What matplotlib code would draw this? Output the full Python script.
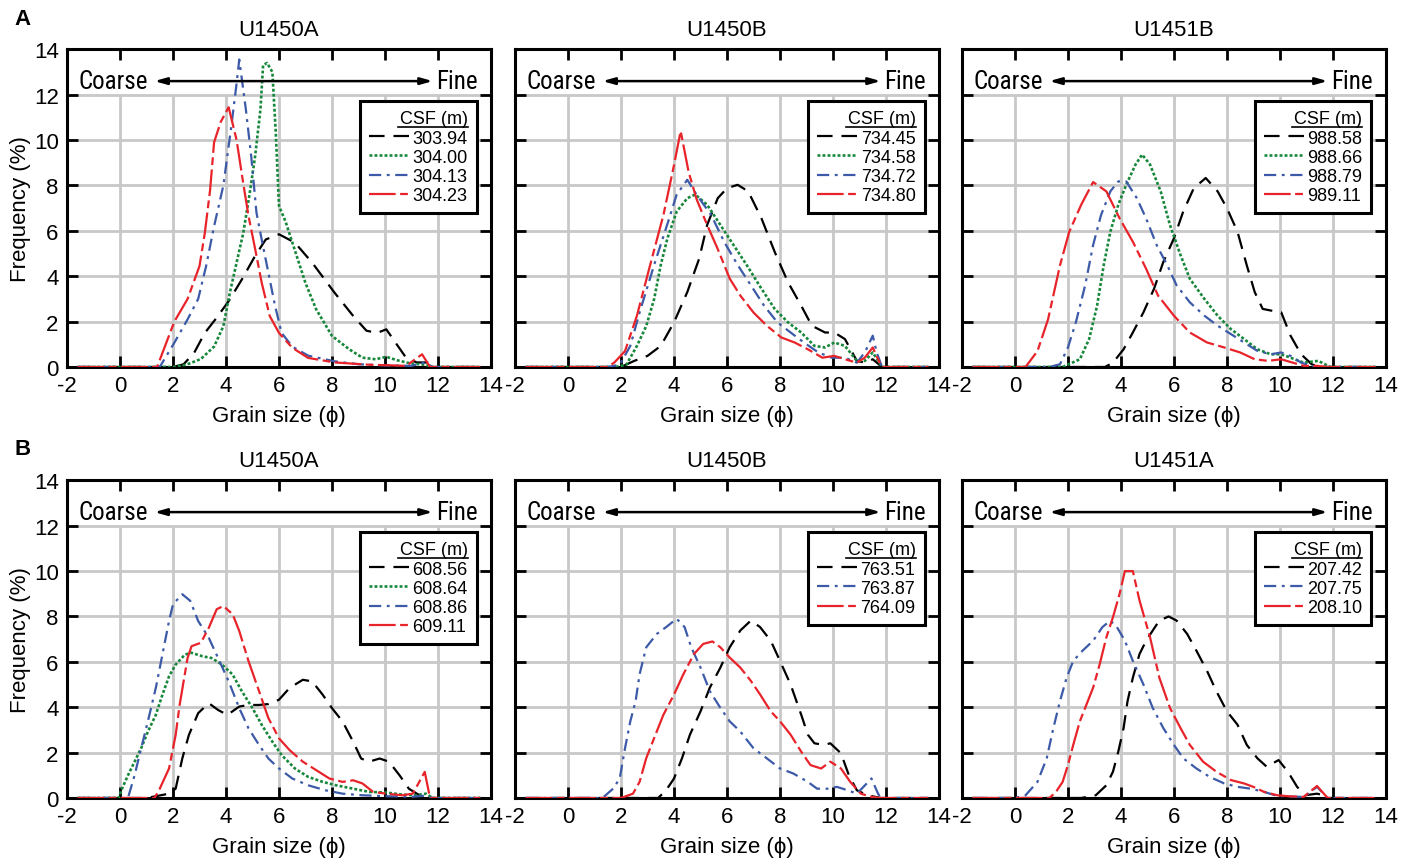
import matplotlib
matplotlib.use("Agg")
import matplotlib.pyplot as plt
from matplotlib.lines import Line2D

plt.rcParams['font.family'] = ['Liberation Sans', 'DejaVu Sans']
plt.rcParams['axes.unicode_minus'] = False

# ---- grain-size distributions: phi values and frequency (%) ----
# (A) U1450A
a1_30394_phi = [-1.6, 2.0, 2.4, 2.8, 3.2, 3.6, 4.1, 4.6, 5.1, 5.5, 6.0, 6.6, 7.25, 8.1, 8.8, 9.3, 9.7, 10.05, 10.4, 10.8, 11.2, 11.6, 11.8, 13.6]
a1_30394_freq = [0, 0, 0.12, 0.63, 1.5, 2.1, 2.9, 3.86, 4.9, 5.62, 5.85, 5.48, 4.6, 3.27, 2.25, 1.6, 1.5, 1.66, 1.07, 0.4, 0.2, 0.2, 0, 0]
a1_30400_phi = [-1.6, 2.0, 2.5, 3.05, 3.55, 3.9, 4.15, 4.4, 4.65, 4.9, 5.1, 5.3, 5.4, 5.55, 5.75, 5.88, 6.0, 6.25, 6.5, 6.75, 7.0, 7.4, 8.0, 8.65, 9.15, 9.65, 10.05, 10.45, 10.95, 11.5, 11.8, 13.6]
a1_30400_freq = [0, 0, 0.1, 0.35, 0.9, 1.8, 3.3, 4.6, 5.9, 7.7, 9.3, 11.35, 13.3, 13.4, 13.0, 10.3, 7.1, 6.4, 5.5, 4.6, 3.7, 2.55, 1.37, 0.78, 0.41, 0.34, 0.45, 0.3, 0.16, 0.1, 0, 0]
a1_30413_phi = [-1.6, 1.5, 2.05, 2.55, 2.95, 3.25, 3.55, 3.9, 4.2, 4.4, 4.5, 4.75, 4.95, 5.15, 5.35, 5.6, 5.85, 6.1, 6.5, 7.1, 8.1, 9.0, 10.0, 11.0, 11.5, 11.8, 13.6]
a1_30413_freq = [0, 0, 1.07, 2.1, 3.0, 4.45, 6.2, 8.0, 10.6, 12.5, 13.55, 11.35, 9.3, 6.8, 5.6, 4.15, 2.7, 1.5, 0.9, 0.5, 0.25, 0.12, 0.07, 0.05, 0.2, 0, 0]
a1_30423_phi = [-1.6, 1.4, 2.05, 2.55, 3.0, 3.2, 3.4, 3.55, 3.8, 4.1, 4.4, 4.65, 4.85, 5.1, 5.35, 5.65, 6.0, 6.5, 7.1, 8.1, 9.4, 10.0, 10.8, 11.4, 11.7, 13.6]
a1_30423_freq = [0, 0, 2.0, 3.0, 4.45, 5.9, 7.8, 9.9, 10.8, 11.45, 10.0, 8.1, 6.65, 5.2, 3.7, 2.25, 1.5, 0.85, 0.4, 0.2, 0.1, 0.08, 0.05, 0.56, 0, 0]

# (A) U1450B
a2_73445_phi = [-1.6, 2.0, 2.5, 3.0, 3.5, 4.0, 4.5, 4.95, 5.25, 5.65, 6.0, 6.4, 6.8, 7.3, 7.8, 8.3, 8.8, 9.2, 9.7, 10.05, 10.45, 10.9, 11.2, 11.5, 11.85, 13.6]
a2_73445_freq = [0, 0, 0.27, 0.49, 0.93, 1.97, 3.3, 4.78, 6.26, 7.44, 7.88, 8.03, 7.74, 6.55, 5.07, 3.74, 2.7, 1.82, 1.52, 1.52, 1.23, 0.27, 0.19, 0.34, 0, 0]
a2_73458_phi = [-1.6, 1.8, 2.2, 2.6, 2.95, 3.25, 3.5, 3.75, 4.1, 4.5, 4.8, 5.25, 5.75, 6.25, 6.75, 7.3, 7.8, 8.3, 8.8, 9.3, 9.7, 10.05, 10.45, 10.9, 11.2, 11.5, 11.85, 13.6]
a2_73458_freq = [0, 0, 0.1, 0.93, 1.8, 3.0, 4.5, 5.67, 6.85, 7.44, 7.6, 7.15, 6.26, 5.37, 4.48, 3.45, 2.56, 1.97, 1.52, 0.93, 0.86, 1.08, 0.93, 0.27, 0.27, 0.64, 0, 0]
a2_73472_phi = [-1.6, 1.5, 1.95, 2.35, 2.7, 3.25, 3.75, 4.1, 4.5, 4.85, 5.4, 5.9, 6.4, 6.9, 7.4, 7.9, 8.4, 8.9, 9.45, 9.95, 10.45, 10.9, 11.2, 11.5, 11.65, 11.85, 13.6]
a2_73472_freq = [0, 0, 0.1, 0.93, 2.4, 4.5, 6.3, 7.6, 8.25, 7.6, 6.7, 5.5, 4.5, 3.6, 2.7, 1.97, 1.52, 1.08, 0.64, 0.41, 0.41, 0.19, 0.64, 1.38, 0.64, 0, 0]
a2_73480_phi = [-1.6, 1.5, 1.75, 2.15, 2.6, 3.1, 3.6, 4.0, 4.25, 4.55, 4.85, 5.25, 5.65, 6.1, 6.5, 7.0, 7.5, 8.05, 8.55, 9.05, 9.6, 10.05, 10.45, 10.9, 11.2, 11.5, 11.7, 11.85, 13.6]
a2_73480_freq = [0, 0, 0.2, 0.7, 2.26, 4.5, 6.7, 8.9, 10.4, 8.6, 7.4, 6.26, 5.2, 3.9, 3.15, 2.4, 1.82, 1.3, 1.08, 0.78, 0.41, 0.49, 0.34, 0.19, 0.41, 0.86, 0.34, 0, 0]

# (A) U1451B
a3_98858_phi = [-1.6, 3.4, 3.7, 4.1, 4.45, 4.85, 5.25, 5.6, 6.0, 6.35, 6.75, 7.2, 7.65, 8.0, 8.4, 8.75, 9.05, 9.35, 9.65, 10.05, 10.4, 10.8, 11.2, 11.5, 13.6]
a3_98858_freq = [0, 0, 0.19, 0.78, 1.52, 2.41, 3.45, 4.63, 5.67, 6.85, 7.88, 8.33, 7.74, 7.0, 5.96, 4.48, 3.3, 2.56, 2.49, 2.41, 1.38, 0.56, 0.12, 0, 0]
a3_98866_phi = [-1.6, 1.8, 2.45, 2.8, 3.1, 3.35, 3.6, 3.9, 4.2, 4.55, 4.8, 5.1, 5.5, 5.85, 6.25, 6.6, 7.15, 7.65, 8.15, 8.65, 9.15, 9.65, 10.05, 10.4, 10.9, 11.45, 11.7, 11.9, 13.6]
a3_98866_freq = [0, 0, 0.34, 1.23, 2.7, 4.48, 5.96, 7.15, 8.03, 8.92, 9.36, 8.92, 7.74, 6.26, 4.93, 3.89, 3.0, 2.26, 1.67, 1.23, 0.78, 0.56, 0.56, 0.41, 0.19, 0.27, 0.12, 0, 0]
a3_98879_phi = [-1.6, 1.3, 1.7, 2.0, 2.3, 2.65, 2.95, 3.25, 3.6, 3.9, 4.2, 4.6, 4.95, 5.35, 5.75, 6.1, 6.6, 7.15, 7.65, 8.15, 8.65, 9.15, 9.65, 10.05, 10.4, 10.8, 11.2, 11.5, 13.6]
a3_98879_freq = [0, 0, 0.12, 0.86, 1.97, 3.6, 5.37, 6.7, 7.74, 8.18, 8.18, 7.44, 6.55, 5.37, 4.48, 3.6, 2.85, 2.26, 1.82, 1.45, 1.08, 0.71, 0.56, 0.64, 0.49, 0.19, 0.05, 0, 0]
a3_98911_phi = [-1.6, 0.4, 0.85, 1.25, 1.7, 2.05, 2.5, 2.95, 3.45, 3.95, 4.45, 4.95, 5.4, 6.0, 6.6, 7.25, 7.9, 8.5, 9.05, 9.55, 10.05, 10.4, 10.9, 11.4, 11.8, 13.6]
a3_98911_freq = [0, 0, 0.7, 2.1, 4.48, 5.96, 7.15, 8.15, 7.74, 6.55, 5.52, 4.33, 3.15, 2.26, 1.52, 1.08, 0.86, 0.64, 0.34, 0.27, 0.34, 0.22, 0.05, 0.05, 0, 0]

# (B) U1450A
b1_60856_phi = [-1.6, 1.0, 1.85, 2.1, 2.35, 2.6, 2.95, 3.35, 3.7, 4.05, 4.5, 4.85, 5.25, 5.6, 6.0, 6.4, 6.9, 7.25, 7.65, 8.0, 8.4, 8.8, 9.1, 9.4, 9.8, 10.15, 10.55, 10.9, 11.3, 11.8, 13.6]
b1_60856_freq = [0, 0, 0.19, 0.41, 1.74, 2.78, 3.74, 4.18, 3.88, 3.66, 4.03, 4.1, 4.1, 4.14, 4.33, 4.85, 5.21, 5.14, 4.55, 3.96, 3.37, 2.48, 1.74, 1.6, 1.74, 1.6, 1.0, 0.41, 0.12, 0, 0]
b1_60864_phi = [-1.6, -0.05, 0.05, 0.3, 0.55, 0.8, 1.05, 1.35, 1.6, 1.85, 2.1, 2.45, 2.7, 3.1, 3.45, 3.85, 4.25, 4.6, 5.0, 5.35, 5.75, 6.1, 6.6, 7.1, 7.65, 8.15, 8.8, 9.4, 10.05, 10.65, 11.15, 11.55, 11.8, 13.6]
b1_60864_freq = [0, 0, 0.34, 1.0, 1.6, 2.2, 2.92, 3.66, 4.55, 5.36, 5.88, 6.32, 6.4, 6.25, 6.17, 5.88, 5.44, 4.7, 3.96, 3.22, 2.48, 1.89, 1.3, 0.93, 0.71, 0.56, 0.41, 0.27, 0.24, 0.15, 0.12, 0.19, 0, 0]
b1_60886_phi = [-1.6, 0.3, 0.55, 0.8, 1.05, 1.35, 1.6, 1.85, 2.0, 2.35, 2.65, 2.95, 3.35, 3.7, 4.1, 4.5, 4.85, 5.25, 5.6, 6.0, 6.5, 7.1, 7.75, 8.4, 9.15, 10.0, 11.0, 11.5, 11.8, 13.6]
b1_60886_freq = [0, 0, 1.0, 2.2, 3.37, 4.85, 6.32, 7.8, 8.54, 8.98, 8.69, 7.8, 7.06, 6.17, 5.14, 3.96, 3.07, 2.33, 1.74, 1.3, 0.86, 0.56, 0.34, 0.19, 0.12, 0.08, 0.05, 0.1, 0, 0]
b1_60911_phi = [-1.6, 1.3, 1.5, 1.85, 2.1, 2.25, 2.4, 2.55, 2.7, 3.05, 3.35, 3.65, 3.9, 4.25, 4.5, 4.85, 5.25, 5.6, 6.0, 6.4, 6.9, 7.4, 7.9, 8.4, 8.8, 9.15, 9.55, 10.05, 10.65, 11.05, 11.5, 11.7, 13.6]
b1_60911_freq = [0, 0, 0.41, 1.3, 2.78, 4.1, 5.14, 6.17, 6.69, 6.84, 7.5, 8.32, 8.46, 8.1, 7.36, 6.03, 4.7, 3.52, 2.63, 2.11, 1.6, 1.23, 0.86, 0.71, 0.78, 0.64, 0.27, 0.19, 0.12, 0.19, 1.15, 0, 0]

# (B) U1450B
b2_76351_phi = [-1.6, 3.4, 3.7, 4.0, 4.3, 4.6, 5.0, 5.35, 5.75, 6.1, 6.5, 6.9, 7.25, 7.65, 8.0, 8.4, 8.8, 9.05, 9.3, 9.65, 9.9, 10.3, 10.6, 10.9, 11.3, 11.8, 13.6]
b2_76351_freq = [0, 0, 0.34, 0.86, 1.75, 2.79, 3.82, 4.86, 5.75, 6.64, 7.38, 7.82, 7.53, 6.93, 6.04, 5.0, 3.67, 2.79, 2.41, 2.34, 2.41, 1.97, 1.0, 0.34, 0.12, 0, 0]
b2_76387_phi = [-1.6, 1.3, 1.7, 1.95, 2.15, 2.35, 2.55, 2.7, 2.95, 3.35, 3.7, 4.1, 4.4, 4.65, 5.0, 5.35, 5.75, 6.1, 6.5, 7.0, 7.5, 8.0, 8.5, 9.05, 9.4, 9.8, 10.15, 10.55, 10.9, 11.15, 11.45, 11.7, 11.8, 13.6]
b2_76387_freq = [0, 0, 0.41, 0.86, 2.19, 3.38, 4.27, 5.45, 6.64, 7.23, 7.53, 7.9, 7.53, 6.64, 5.75, 4.71, 3.97, 3.38, 2.93, 2.19, 1.75, 1.3, 1.08, 0.71, 0.41, 0.41, 0.49, 0.34, 0.19, 0.49, 0.86, 0.19, 0, 0]
b2_76409_phi = [-1.6, 2.0, 2.45, 2.7, 2.95, 3.3, 3.6, 4.0, 4.35, 4.75, 5.1, 5.45, 5.75, 6.1, 6.5, 6.9, 7.25, 7.65, 8.0, 8.4, 8.8, 9.15, 9.55, 9.9, 10.3, 10.65, 11.05, 11.45, 11.8, 13.6]
b2_76409_freq = [0, 0, 0.19, 0.71, 1.75, 2.79, 3.67, 4.56, 5.45, 6.34, 6.79, 6.9, 6.64, 6.19, 5.75, 5.16, 4.56, 3.82, 3.38, 2.79, 2.04, 1.45, 1.3, 1.6, 1.3, 0.71, 0.19, 0.05, 0, 0]

# (B) U1451A
b3_20742_phi = [-1.6, 2.5, 3.05, 3.45, 3.7, 3.9, 4.1, 4.25, 4.45, 4.7, 4.95, 5.2, 5.45, 5.8, 6.1, 6.5, 6.85, 7.25, 7.6, 8.0, 8.4, 8.75, 9.15, 9.5, 9.95, 10.3, 10.65, 10.95, 11.4, 11.65, 11.8, 13.6]
b3_20742_freq = [0, 0, 0.12, 0.56, 1.16, 2.04, 3.08, 4.27, 5.3, 6.34, 6.93, 7.38, 7.82, 8.0, 7.82, 7.23, 6.49, 5.6, 4.71, 3.82, 3.23, 2.34, 1.75, 1.38, 1.67, 1.16, 0.49, 0.12, 0.19, 0.12, 0, 0]
b3_20775_phi = [-1.6, 0.0, 0.4, 0.85, 1.2, 1.45, 1.7, 1.95, 2.2, 2.55, 2.95, 3.3, 3.6, 3.85, 4.15, 4.45, 4.85, 5.2, 5.6, 6.0, 6.35, 6.85, 7.35, 7.9, 8.4, 8.9, 9.4, 9.9, 10.4, 10.9, 11.4, 11.8, 13.6]
b3_20775_freq = [0, 0, 0.12, 0.71, 1.75, 3.08, 4.27, 5.3, 6.04, 6.49, 6.93, 7.53, 7.82, 7.53, 6.93, 6.04, 5.0, 3.97, 3.08, 2.34, 1.75, 1.3, 0.93, 0.64, 0.49, 0.41, 0.27, 0.09, 0.06, 0.05, 0.49, 0, 0]
b3_20810_phi = [-1.6, 1.3, 1.55, 1.8, 2.0, 2.2, 2.45, 2.7, 2.95, 3.2, 3.45, 3.7, 3.95, 4.15, 4.45, 4.7, 5.1, 5.45, 5.85, 6.25, 6.6, 7.1, 7.6, 8.15, 8.65, 9.0, 9.4, 9.9, 10.4, 10.9, 11.4, 11.8, 13.6]
b3_20810_freq = [0, 0, 0.27, 0.71, 1.45, 2.34, 3.38, 4.12, 4.86, 5.9, 7.08, 7.97, 9.0, 10.0, 10.0, 8.71, 7.08, 5.3, 3.97, 3.08, 2.34, 1.6, 1.16, 0.79, 0.64, 0.49, 0.27, 0.12, 0.07, 0.05, 0.53, 0, 0]

# line styles for the successive samples of each hole
STYLES = {
    'k': dict(color='black', ls=(0, (7, 4)), lw=1.6),
    'g': dict(color='#17873b', ls=(0, (1.1, 0.8)), lw=1.9),
    'b': dict(color='#3c5aa8', ls=(0, (5.5, 2.5, 1.3, 2.5)), lw=1.6),
    'r': dict(color='#e8232a', ls=(0, (12, 2, 3.5, 2)), lw=1.6),
}
GRID = '#c8c8c8'
NARROW = ['Roboto Condensed', 'Liberation Sans Narrow', 'Liberation Sans', 'DejaVu Sans']

panels = [
    ('U1450A', [('303.94', a1_30394_phi, a1_30394_freq, 'k'),
                ('304.00', a1_30400_phi, a1_30400_freq, 'g'),
                ('304.13', a1_30413_phi, a1_30413_freq, 'b'),
                ('304.23', a1_30423_phi, a1_30423_freq, 'r')]),
    ('U1450B', [('734.45', a2_73445_phi, a2_73445_freq, 'k'),
                ('734.58', a2_73458_phi, a2_73458_freq, 'g'),
                ('734.72', a2_73472_phi, a2_73472_freq, 'b'),
                ('734.80', a2_73480_phi, a2_73480_freq, 'r')]),
    ('U1451B', [('988.58', a3_98858_phi, a3_98858_freq, 'k'),
                ('988.66', a3_98866_phi, a3_98866_freq, 'g'),
                ('988.79', a3_98879_phi, a3_98879_freq, 'b'),
                ('989.11', a3_98911_phi, a3_98911_freq, 'r')]),
    ('U1450A', [('608.56', b1_60856_phi, b1_60856_freq, 'k'),
                ('608.64', b1_60864_phi, b1_60864_freq, 'g'),
                ('608.86', b1_60886_phi, b1_60886_freq, 'b'),
                ('609.11', b1_60911_phi, b1_60911_freq, 'r')]),
    ('U1450B', [('763.51', b2_76351_phi, b2_76351_freq, 'k'),
                ('763.87', b2_76387_phi, b2_76387_freq, 'b'),
                ('764.09', b2_76409_phi, b2_76409_freq, 'r')]),
    ('U1451A', [('207.42', b3_20742_phi, b3_20742_freq, 'k'),
                ('207.75', b3_20775_phi, b3_20775_freq, 'b'),
                ('208.10', b3_20810_phi, b3_20810_freq, 'r')]),
]

fig = plt.figure(figsize=(14.08, 8.62), dpi=100)
col_left = [0.0476, 0.3658, 0.6832]
row_bottom = [0.5731, 0.0731]
width, height = 0.3011, 0.3685

legends = []
for i, (title, curves) in enumerate(panels):
    row, col = divmod(i, 3)
    ax = fig.add_axes([col_left[col], row_bottom[row], width, height])

    # grid stops below the Coarse/Fine band
    ax.hlines(range(2, 13, 2), -2, 14, color=GRID, lw=2, zorder=0)
    ax.vlines(range(0, 13, 2), 0, 12, color=GRID, lw=2, zorder=0)

    for depth, phi, freq, key in curves:
        ax.plot(phi, freq, label=depth, zorder=3, **STYLES[key])

    ax.set_xlim(-2, 14)
    ax.set_ylim(0, 14)
    ax.set_xticks(range(-2, 15, 2))
    ax.set_yticks(range(0, 15, 2))
    ax.tick_params(direction='in', length=8, width=2, top=True, right=True,
                   labelsize=16, pad=6)
    if col > 0:
        ax.tick_params(labelleft=False)
    else:
        ax.set_ylabel('Frequency (%)', fontsize=16, labelpad=2)
    for s in ax.spines.values():
        s.set_linewidth(2.2)

    ax.set_title(title, fontsize=16, pad=10)
    ax.set_xlabel('Grain size (\u03d5)', fontsize=16, labelpad=6)

    ax.annotate('', xy=(1.3, 12.6), xytext=(11.8, 12.6),
                arrowprops=dict(arrowstyle='<|-|>,head_length=0.7,head_width=0.2',
                                lw=1.8, color='black', shrinkA=0, shrinkB=0))
    ax.text(-1.55, 12.6, 'Coarse', ha='left', va='center', fontsize=18, family=NARROW)
    ax.text(13.5, 12.6, 'Fine', ha='right', va='center', fontsize=18, family=NARROW)

    leg = ax.legend(title='CSF (m)', loc='upper right', bbox_to_anchor=(0.966, 0.836),
                    borderaxespad=0, fontsize=13, title_fontsize=13, fancybox=False,
                    edgecolor='black', framealpha=1, handlelength=2.2,
                    handletextpad=0.2, labelspacing=0.12, borderpad=0.5,
                    alignment='right')
    leg.get_frame().set_linewidth(2.2)
    legends.append(leg)

fig.text(0.010, 0.977, 'A', fontsize=16, weight='bold', va='center')
fig.text(0.010, 0.478, 'B', fontsize=16, weight='bold', va='center')

# underline the legend titles
fig.canvas.draw()
renderer = fig.canvas.get_renderer()
inv = fig.transFigure.inverted()
for leg in legends:
    bb = leg.get_title().get_window_extent(renderer)
    (x0, y0), (x1, _) = inv.transform([(bb.x0 - 2, bb.y0), (bb.x1, bb.y0)])
    fig.add_artist(Line2D([x0, x1], [y0, y0], color='black', lw=1.2,
                          transform=fig.transFigure, zorder=10))

fig.savefig('out.png', dpi=100)
